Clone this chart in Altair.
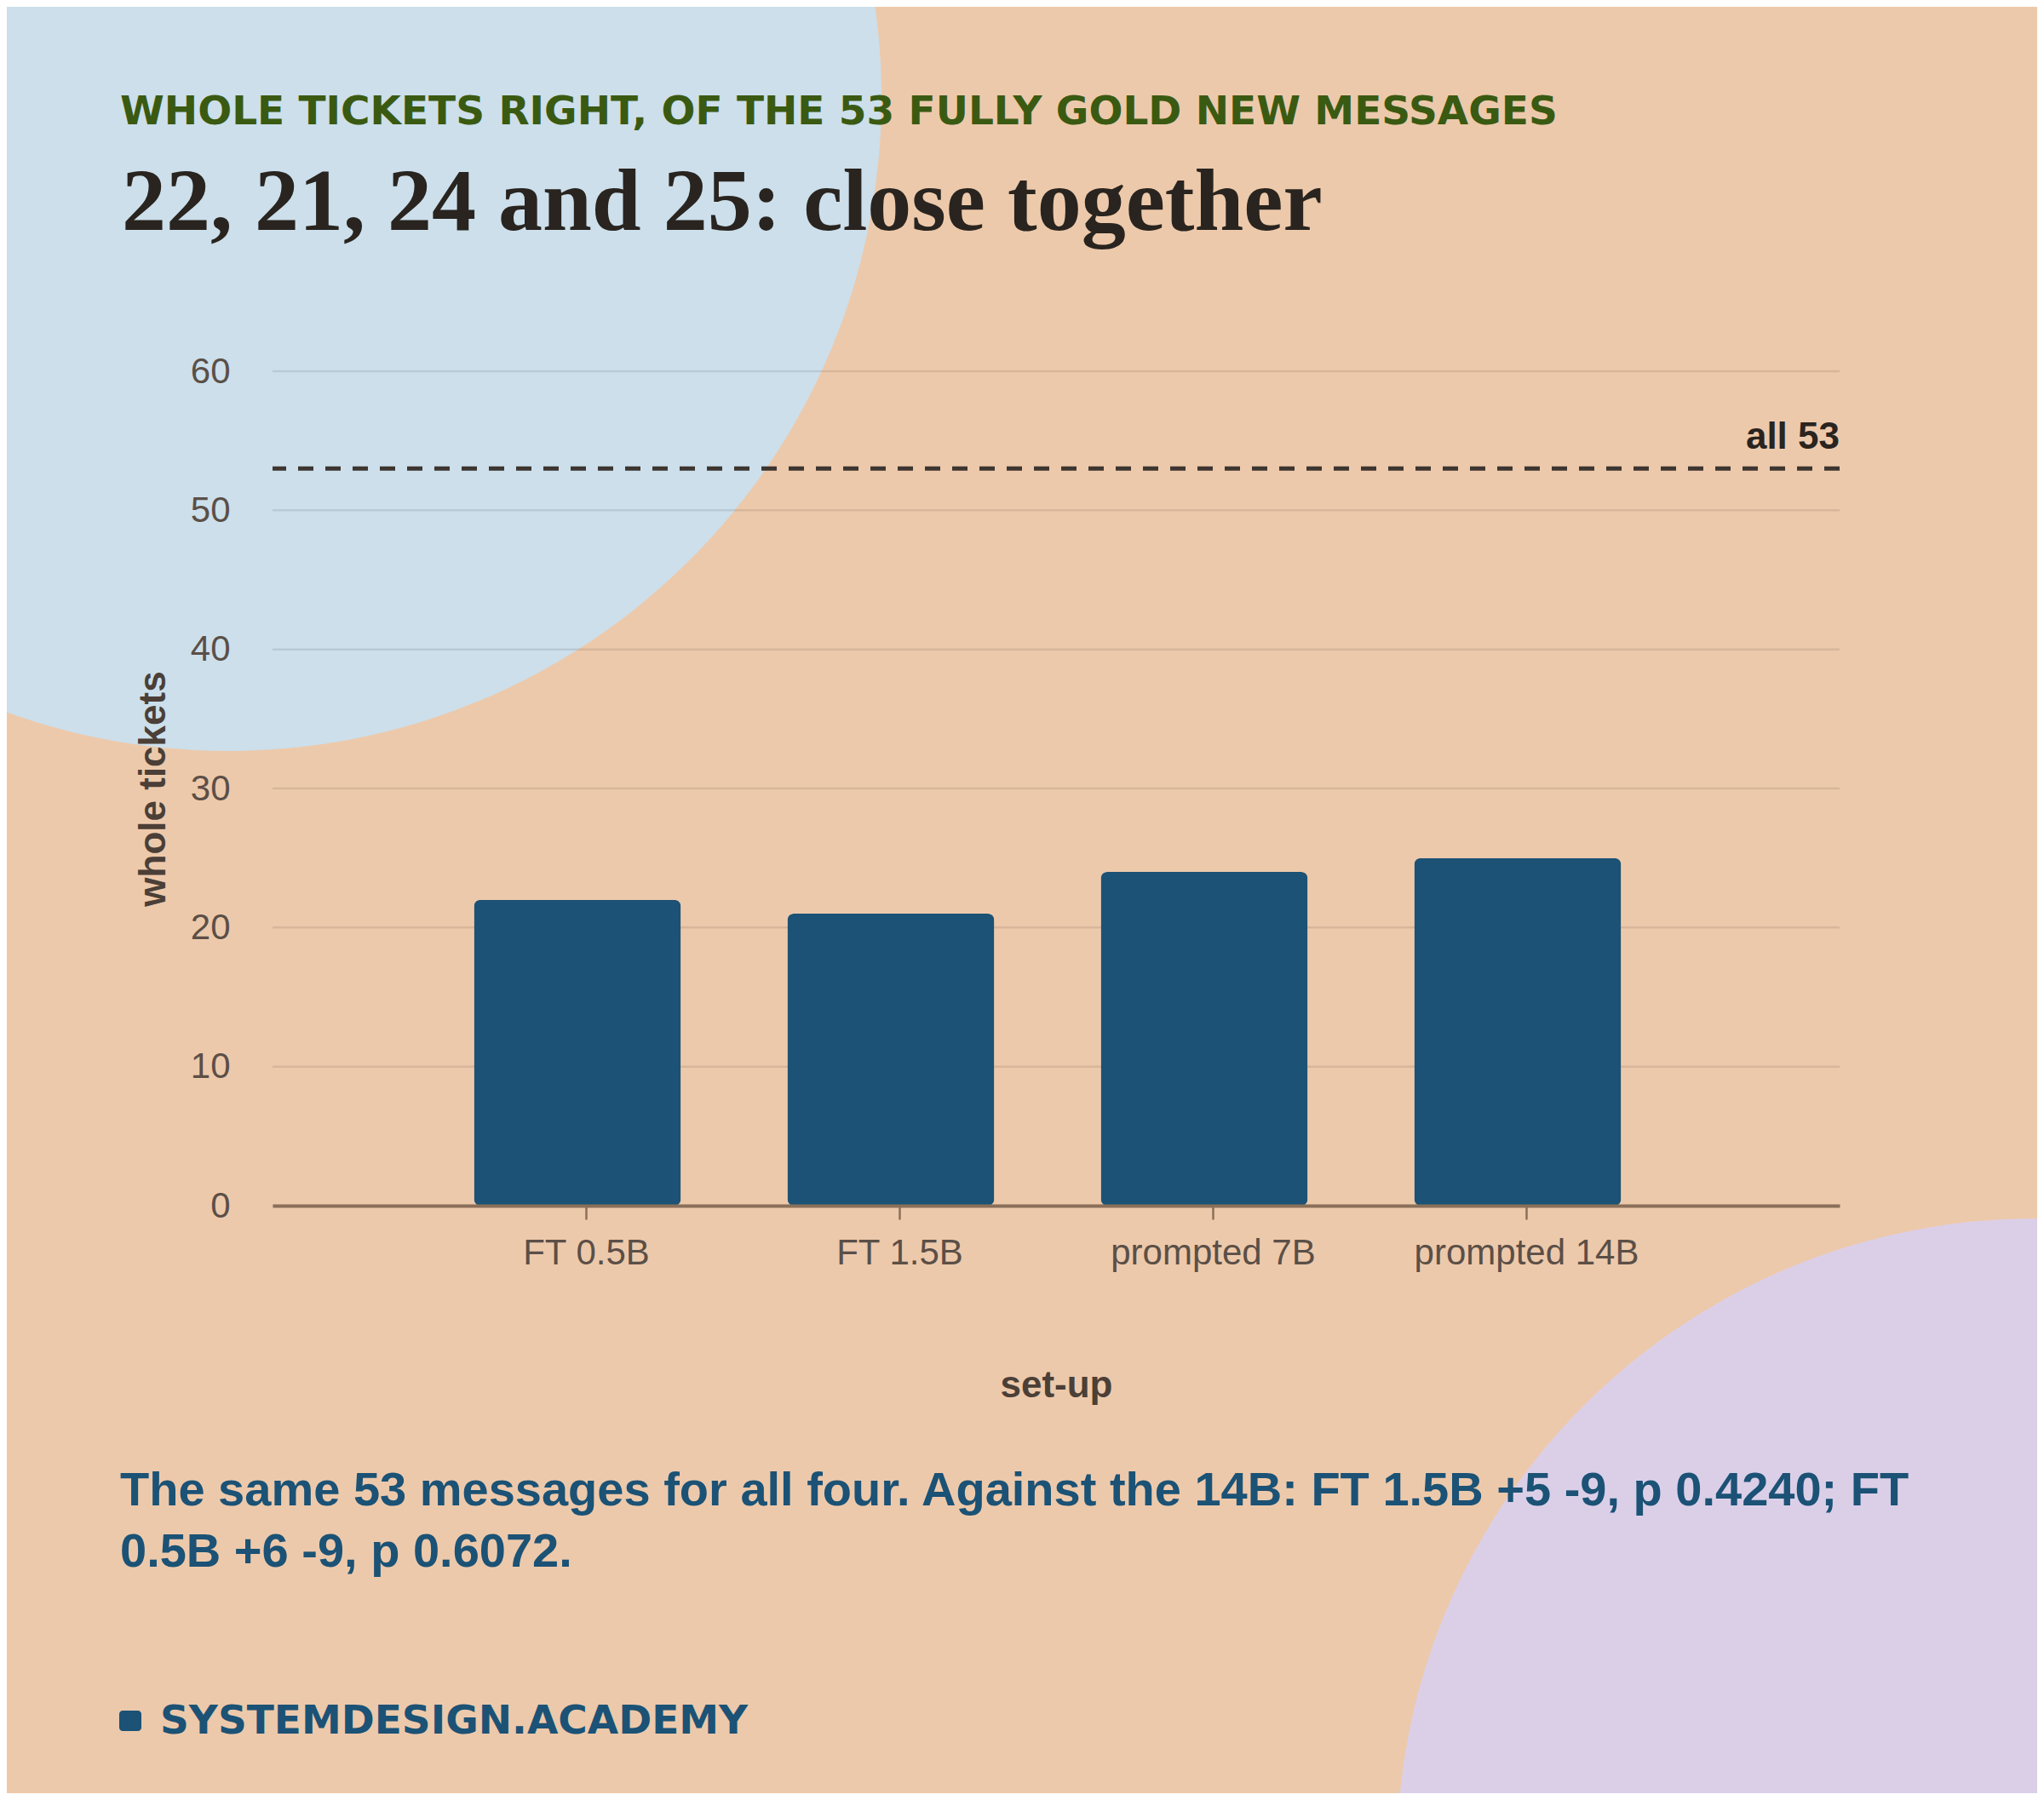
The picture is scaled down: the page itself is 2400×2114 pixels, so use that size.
import pandas as pd
import altair as alt

# data
setups = ["FT 0.5B", "FT 1.5B", "prompted 7B", "prompted 14B"]
whole_tickets = [22, 21, 24, 25]
total_gold = 53
y_ticks = [0, 10, 20, 30, 40, 50, 60]

kicker = "WHOLE TICKETS RIGHT, OF THE 53 FULLY GOLD NEW MESSAGES"
headline = "22, 21, 24 and 25: close together"
footnote = [
    "The same 53 messages for all four. Against the 14B: FT 1.5B +5 -9, p 0.4240; FT",
    "0.5B +6 -9, p 0.6072.",
]
brand = "SYSTEMDESIGN.ACADEMY"

W, H = 1840, 980
SANS = "Liberation Sans"
BLUE = "#1B5275"
LABEL = "#5B4F47"
AXIS_BROWN = "#8A7059"

bars_df = pd.DataFrame({"setup": setups, "tickets": whole_tickets})
grid_df = pd.DataFrame({"tickets": y_ticks})
ref_df = pd.DataFrame({"tickets": [total_gold], "label": [f"all {total_gold}"]})
one = pd.DataFrame({"k": [0]})

y_enc = alt.Y(
    "tickets:Q",
    title="whole tickets",
    scale=alt.Scale(domain=[0, 60], nice=False),
    axis=alt.Axis(
        values=y_ticks, grid=False, ticks=False, tickSize=0, domain=False,
        labelFont=SANS, labelFontSize=42, labelColor=LABEL, labelPadding=50,
        titleFont=SANS, titleFontSize=44, titleFontWeight="bold", titleColor="#4B3F37",
        titleX=-127, titleBaseline="alphabetic", zindex=1,
    ),
)

x_enc = alt.X(
    "setup:N",
    sort=setups,
    title="set-up",
    scale=alt.Scale(type="point", padding=1),
    axis=alt.Axis(
        labelAngle=0, labelFont=SANS, labelFontSize=42, labelColor=LABEL, labelPadding=19,
        labelLimit=0,
        tickSize=16, tickWidth=2.5, tickColor=AXIS_BROWN,
        domainColor=AXIS_BROWN, domainWidth=4, grid=False,
        titleFont=SANS, titleFontSize=44, titleFontWeight="bold", titleColor="#4B3F37",
        titleY=224, titleBaseline="alphabetic", zindex=1,
    ),
)

# decorative circles behind everything
blob_blue = alt.Chart(one).mark_point(
    shape="circle", filled=True, size=1534 ** 2, color="#CCDFEB", opacity=1, strokeWidth=0
).encode(x=alt.value(-52), y=alt.value(-321))

blob_lilac = alt.Chart(one).mark_point(
    shape="circle", filled=True, size=1500 ** 2, color="#DBCFE8", opacity=1, strokeWidth=0
).encode(x=alt.value(2070), y=alt.value(1745))

grid = alt.Chart(grid_df).mark_rule(color="#000000", opacity=0.09, strokeWidth=2.5).encode(y=y_enc)

bars = alt.Chart(bars_df).mark_bar(size=243, cornerRadius=8, color=BLUE, xOffset=-10).encode(
    x=x_enc, y=y_enc
)

ref_line = alt.Chart(ref_df).mark_rule(strokeDash=[18, 14], strokeWidth=5, color="#3D3530").encode(y=y_enc)

ref_label = alt.Chart(ref_df).mark_text(
    align="right", baseline="alphabetic", dy=-23,
    font=SANS, fontSize=44, fontWeight="bold", color="#2A241F",
).encode(x=alt.value(W), y=y_enc, text="label:N")

kicker_txt = alt.Chart(one).mark_text(
    align="left", baseline="alphabetic", font="DejaVu Sans", fontSize=47,
    fontWeight="bold", color="#3A5A12",
).encode(x=alt.value(-179), y=alt.value(-290), text=alt.value(kicker))

headline_txt = alt.Chart(one).mark_text(
    align="left", baseline="alphabetic", font="Liberation Serif", fontSize=104,
    fontWeight="bold", color="#29241F",
).encode(x=alt.value(-177), y=alt.value(-166), text=alt.value(headline))

foot_txt = alt.Chart(one).mark_text(
    align="left", baseline="alphabetic", font=SANS, fontSize=56, lineHeight=72,
    fontWeight="bold", color=BLUE,
).encode(x=alt.value(-179), y=alt.value(1332), text=alt.value(footnote))

brand_box = alt.Chart(one).mark_rect(cornerRadius=4, color=BLUE).encode(
    x=alt.value(-180), x2=alt.value(-154), y=alt.value(1573), y2=alt.value(1597)
)

brand_txt = alt.Chart(one).mark_text(
    align="left", baseline="alphabetic", font="DejaVu Sans", fontSize=47,
    fontWeight="bold", color=BLUE,
).encode(x=alt.value(-132), y=alt.value(1600), text=alt.value(brand))

chart = alt.layer(
    blob_blue, blob_lilac, grid, bars, ref_line, ref_label,
    kicker_txt, headline_txt, foot_txt, brand_box, brand_txt,
).properties(
    width=W,
    height=H,
    padding={"left": 312, "top": 428, "right": 232, "bottom": 690},
    autosize=alt.AutoSizeParams(type="none"),
    background="#EDC9AB",
).configure_view(stroke="transparent")

chart.save("out.html", embed_options={"renderer": "svg", "actions": False})
